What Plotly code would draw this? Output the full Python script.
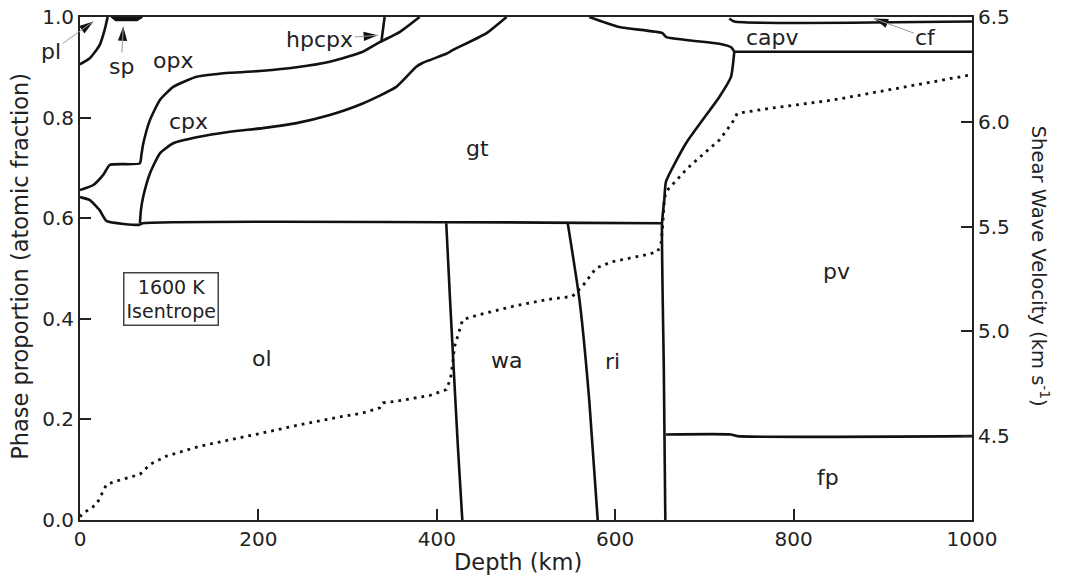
import math
import plotly.graph_objects as go

# ---------------- data (depth in km, cumulative atomic fraction) ----------------
pl_opx_d = [0, 11, 22, 28, 31]
pl_opx_y = [0.906, 0.918, 0.944, 0.977, 1.0]

sp_d = [35, 40, 64, 70]
sp_y = [1.0, 0.993, 0.993, 1.0]

ol_top_d = [0, 11, 22, 30, 67, 70, 652.5]
ol_top_y = [0.642, 0.636, 0.616, 0.594, 0.587, 0.590, 0.590]

opx_bot_d = [0, 15, 26, 33.5, 67, 68.9, 71, 78.4, 89.6, 104.5, 130.7, 168, 205,
             242.7, 280, 317.2, 336, 358.3, 380.7]
opx_bot_y = [0.656, 0.666, 0.686, 0.706, 0.709, 0.727, 0.749, 0.795, 0.835, 0.861,
             0.881, 0.889, 0.893, 0.900, 0.911, 0.931, 0.950, 0.970, 1.0]

hpcpx_d = [337.8, 341.5]
hpcpx_y = [0.950, 1.0]

cpx_gt_d = [67.2, 68.3, 70.9, 78.4, 89.6, 104.5, 130.7, 168, 205, 242.7, 280, 316.9,
            354.6, 377, 384.4, 410.6, 417.7, 455.8, 478.2]
cpx_gt_y = [0.590, 0.616, 0.643, 0.689, 0.729, 0.749, 0.761, 0.772, 0.779, 0.789,
            0.805, 0.828, 0.861, 0.901, 0.909, 0.927, 0.934, 0.968, 1.0]

gt_top_d = [571, 604.7, 652.9, 657.3, 716.7, 730, 733.5]
gt_top_y = [1.0, 0.980, 0.968, 0.960, 0.947, 0.940, 0.931]

capv_pv_d = [733.5, 1000]
capv_pv_y = [0.931, 0.931]

cf_d = [727.9, 733.5, 1000]
cf_y = [0.997, 0.991, 0.991]

gt_pv_d = [733.5, 729.8, 716.7, 679.4, 657, 655, 652.5, 654.5, 656.2]
gt_pv_y = [0.931, 0.881, 0.841, 0.749, 0.673, 0.636, 0.590, 0.300, 0.0]

ol_wa_d = [410.6, 414.5, 418.8, 423.5, 428.6]
ol_wa_y = [0.590, 0.450, 0.306, 0.150, 0.0]

wa_ri_d = [546.8, 560, 571, 580.4]
wa_ri_y = [0.590, 0.437, 0.236, 0.0]

pv_fp_d = [657, 729.8, 736.8, 1000]
pv_fp_y = [0.170, 0.170, 0.1667, 0.1667]

# shear wave velocity along the 1600 K isentrope (km/s)
vs_d = [0, 2, 18.6, 29.8, 41, 67.2, 78.4, 97, 134, 168, 205.3, 242.7, 280, 317.3,
        336, 339.6, 354.6, 392, 410.6, 414.3, 416.2, 420, 429, 448, 485, 522.6, 552,
        563, 578.6, 597, 634.6, 647.6, 651.4, 653.2, 655, 657, 662.6, 670, 677.5, 685,
        716.7, 731, 736.8, 772.7, 843, 996.6]
vs_v = [4.115, 4.127, 4.175, 4.270, 4.286, 4.318, 4.365, 4.405, 4.452, 4.481, 4.516,
        4.551, 4.583, 4.611, 4.635, 4.659, 4.667, 4.694, 4.722, 4.762, 4.794, 4.929,
        5.056, 5.080, 5.119, 5.151, 5.167, 5.214, 5.302, 5.333, 5.365, 5.381, 5.422,
        5.500, 5.627, 5.667, 5.694, 5.730, 5.762, 5.794, 5.913, 5.994, 6.040, 6.064,
        6.103, 6.222]

# phase labels
phase_names = ["opx", "cpx", "gt", "ol", "wa", "ri", "pv", "fp", "capv"]
phase_lab_d = [104, 122, 446, 204, 478, 597, 848, 838, 776]
phase_lab_y = [0.914, 0.793, 0.739, 0.321, 0.317, 0.315, 0.495, 0.085, 0.960]

# arrowed labels: name, tip depth, tip fraction, text offset (px)
arrow_names = ["pl", "sp", "hpcpx", "cf"]
arrow_tip_d = [15, 48.5, 334, 890]
arrow_tip_y = [0.991, 0.981, 0.9635, 0.997]
arrow_ax = [-42, -2, -58, 52]
arrow_ay = [30, 40, 4, 19]

FONT = "DejaVu Sans"
BLACK = "#111111"
TXT = "#222222"

fig = go.Figure()

boundaries = [
    (pl_opx_d, pl_opx_y), (ol_top_d, ol_top_y), (opx_bot_d, opx_bot_y),
    (hpcpx_d, hpcpx_y), (cpx_gt_d, cpx_gt_y), (gt_top_d, gt_top_y),
    (capv_pv_d, capv_pv_y), (cf_d, cf_y), (gt_pv_d, gt_pv_y),
    (ol_wa_d, ol_wa_y), (wa_ri_d, wa_ri_y), (pv_fp_d, pv_fp_y),
]
for bd, by in boundaries:
    fig.add_trace(go.Scatter(x=bd, y=by, mode="lines",
                             line=dict(color=BLACK, width=2.6, shape="spline", smoothing=0.5),
                             hoverinfo="skip", showlegend=False))

fig.add_trace(go.Scatter(x=sp_d, y=sp_y, mode="lines", fill="toself", fillcolor=BLACK,
                         line=dict(color=BLACK, width=1.5), hoverinfo="skip",
                         showlegend=False))

fig.add_trace(go.Scatter(x=vs_d, y=vs_v, mode="lines", yaxis="y2",
                         line=dict(color=BLACK, width=2.8, dash="2.8px,5px"),
                         hoverinfo="skip", showlegend=False))

for name, d, y in zip(phase_names, phase_lab_d, phase_lab_y):
    fig.add_annotation(x=d, y=y, text=name, showarrow=False,
                       font=dict(family=FONT, size=22, color=TXT))

# gray leader lines with labels
for name, d, y, ax, ay in zip(arrow_names, arrow_tip_d, arrow_tip_y, arrow_ax, arrow_ay):
    fig.add_annotation(x=d, y=y, text=name, showarrow=True, ax=ax, ay=ay,
                       arrowhead=0, arrowwidth=1, arrowcolor="#999999",
                       font=dict(family=FONT, size=22, color=TXT))

# black arrow heads at the tips
head_angles = [math.degrees(math.atan2(-ax, ay)) for ax, ay in zip(arrow_ax, arrow_ay)]
fig.add_trace(go.Scatter(x=arrow_tip_d, y=arrow_tip_y, mode="markers",
                         marker=dict(symbol="arrow", size=15, color=BLACK,
                                     angle=head_angles, line=dict(width=0)),
                         hoverinfo="skip", showlegend=False, cliponaxis=False))

fig.add_annotation(x=102, y=0.44, text="1600 K<br>Isentrope", showarrow=False,
                   font=dict(family=FONT, size=19, color=TXT),
                   bordercolor="#444", borderwidth=1.5, borderpad=2, bgcolor="white")

# axis titles
fig.add_annotation(xref="paper", yref="paper", x=0.4905, y=-0.084, text="Depth (km)",
                   xanchor="center", yanchor="middle",
                   showarrow=False, font=dict(family=FONT, size=22.5, color=TXT))
fig.add_annotation(xref="paper", yref="paper", x=-0.0675, y=0.505,
                   text="Phase proportion (atomic fraction)", textangle=-90,
                   xanchor="center", yanchor="middle",
                   showarrow=False, font=dict(family=FONT, size=22.5, color=TXT))
fig.add_annotation(xref="paper", yref="paper", x=1.0765, y=0.505,
                   text="Shear Wave Velocity (km s<sup>-1</sup>)", textangle=90,
                   xanchor="center", yanchor="middle",
                   showarrow=False, font=dict(family=FONT, size=19.5, color=TXT))

common = dict(ticks="inside", ticklen=11, tickwidth=1.5, tickcolor="#222",
              showline=True, linecolor="#222", linewidth=2,
              showgrid=False, zeroline=False, automargin=False, ticklabelstandoff=0)

fig.update_layout(
    width=1066, height=578,
    margin=dict(l=80, r=94, t=17, b=58, autoexpand=False),
    paper_bgcolor="white", plot_bgcolor="white",
    font=dict(family=FONT, size=20, color=TXT),
    xaxis=dict(range=[0, 1000], tickvals=[0, 200, 400, 600, 800, 1000], mirror=True,
               **common),
    yaxis=dict(range=[0, 1], tickvals=[0, 0.2, 0.4, 0.6, 0.8, 1.0], tickformat=".1f",
               **common),
    yaxis2=dict(range=[4.1, 6.5], tickvals=[4.5, 5.0, 5.5, 6.0, 6.5], tickformat=".1f",
                overlaying="y", side="right", **common),
)

fig.write_html("out.html")
